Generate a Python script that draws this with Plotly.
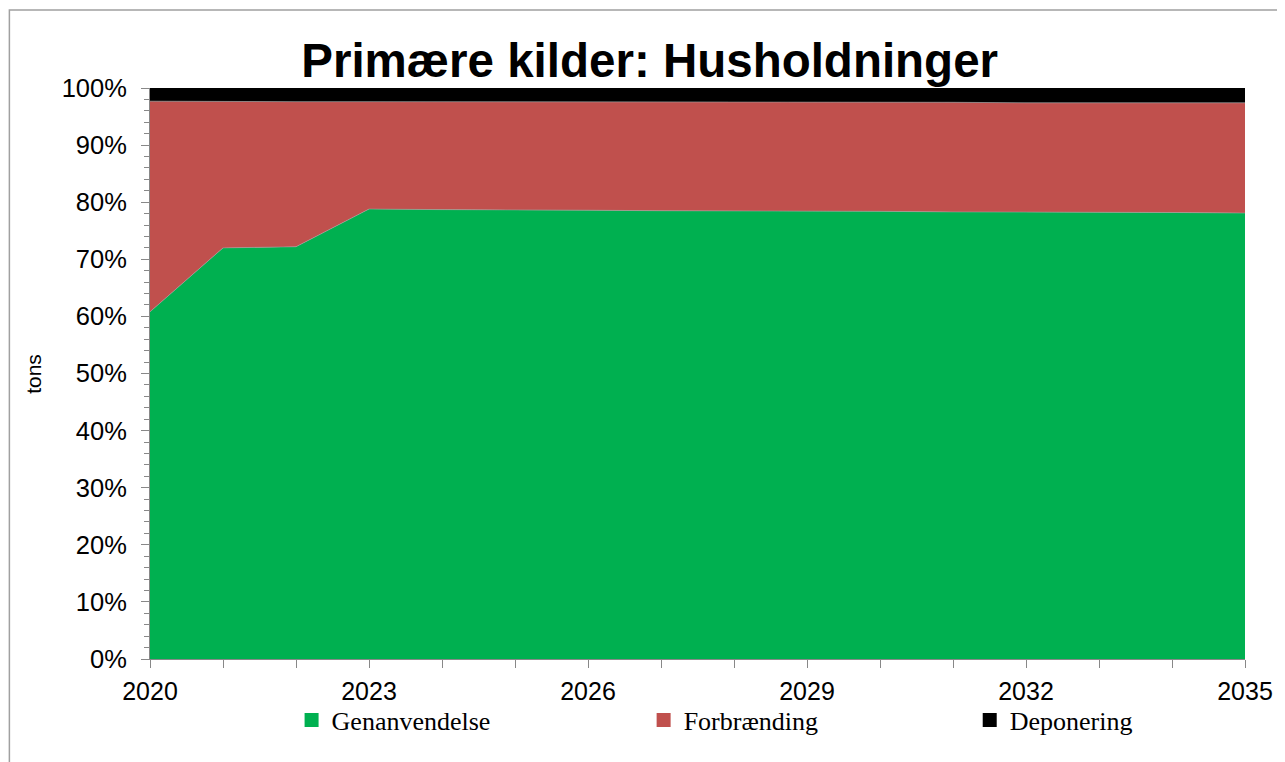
import plotly.graph_objects as go

years = list(range(2020, 2036))
genanvendelse = [60.8, 72.0, 72.2, 78.8, 78.7, 78.7, 78.6, 78.5, 78.5, 78.4, 78.4, 78.3, 78.3, 78.2, 78.2, 78.1]
deponering = [2.3, 2.4, 2.4, 2.4, 2.4, 2.4, 2.5, 2.5, 2.5, 2.5, 2.5, 2.5, 2.6, 2.6, 2.6, 2.6]
forbraending = [round(100 - g - d, 2) for g, d in zip(genanvendelse, deponering)]

series = [
    ("Genanvendelse", genanvendelse, "#00B050"),
    ("Forbrænding", forbraending, "#C0504D"),
    ("Deponering", deponering, "#000000"),
]
legend_ids = ["legend", "legend2", "legend3"]
legend_x = [0.1293, 0.4508, 0.7486]

fig = go.Figure()
for name, vals, col in series:
    fig.add_trace(go.Scatter(
        x=years, y=vals, name=name, stackgroup="one", mode="lines",
        line=dict(width=0.6, color="#A0A0A0" if name != "Deponering" else col),
        fillcolor=col, showlegend=False,
    ))
for (name, vals, col), lid in zip(series, legend_ids):
    fig.add_trace(go.Scatter(
        x=[None], y=[None], name=name, mode="markers",
        marker=dict(symbol="square", size=14, color=col),
        showlegend=True, legend=lid,
    ))

legend_font = dict(family="Liberation Serif, Times New Roman", size=26, color="black")
legend_common = dict(orientation="h", xanchor="left", y=-0.1068, yanchor="middle",
                     font=legend_font, bgcolor="rgba(0,0,0,0)", borderwidth=0)

fig.update_layout(
    width=1277, height=754,
    paper_bgcolor="white", plot_bgcolor="white",
    margin=dict(l=142, r=34, t=80, b=103),
    title=dict(text="<b>Primære kilder: Husholdninger</b>", x=0.4563, xref="paper", xanchor="center",
               y=0.9310, yanchor="middle",
               font=dict(family="Liberation Sans, Arial", size=47.5, color="black")),
    showlegend=True,
    legend=dict(x=legend_x[0], **legend_common),
    legend2=dict(x=legend_x[1], **legend_common),
    legend3=dict(x=legend_x[2], **legend_common),
    xaxis=dict(range=[2020, 2035], tickmode="linear", tick0=2020, dtick=3,
               showgrid=False, zeroline=False, showline=True, linecolor="#888888", linewidth=1,
               ticks="outside", ticklen=8, tickcolor="#888888", ticklabelstandoff=2,
               minor=dict(dtick=1, tick0=2020, ticks="outside", ticklen=8, tickcolor="#888888", showgrid=False),
               tickfont=dict(family="Liberation Sans, Arial", size=25, color="black")),
    yaxis=dict(range=[0, 100], tickmode="linear", tick0=0, dtick=10, ticksuffix="%",
               showgrid=False, zeroline=False, showline=True, linecolor="#888888", linewidth=1,
               ticks="outside", ticklen=8, tickcolor="#888888", ticklabelstandoff=9,
               minor=dict(dtick=2, ticks="outside", ticklen=5, tickcolor="#888888", showgrid=False),
               tickfont=dict(family="Liberation Sans, Arial", size=25.5, color="black")),
    annotations=[dict(text="tons", xref="paper", yref="paper", x=(33 - 150) / 1098, y=0.5,
                      xanchor="center", yanchor="middle", textangle=-90, showarrow=False,
                      font=dict(family="Liberation Sans, Arial", size=21, color="black"))],
    shapes=[dict(type="rect", xref="paper", yref="paper",
                 x0=(9 - 150) / 1098, x1=1.2, y0=-0.3, y1=1 + (88 - 10) / 571,
                 line=dict(color="#A0A0A0", width=1.5), fillcolor="rgba(0,0,0,0)", layer="below")],
)

fig.write_html("out.html")
